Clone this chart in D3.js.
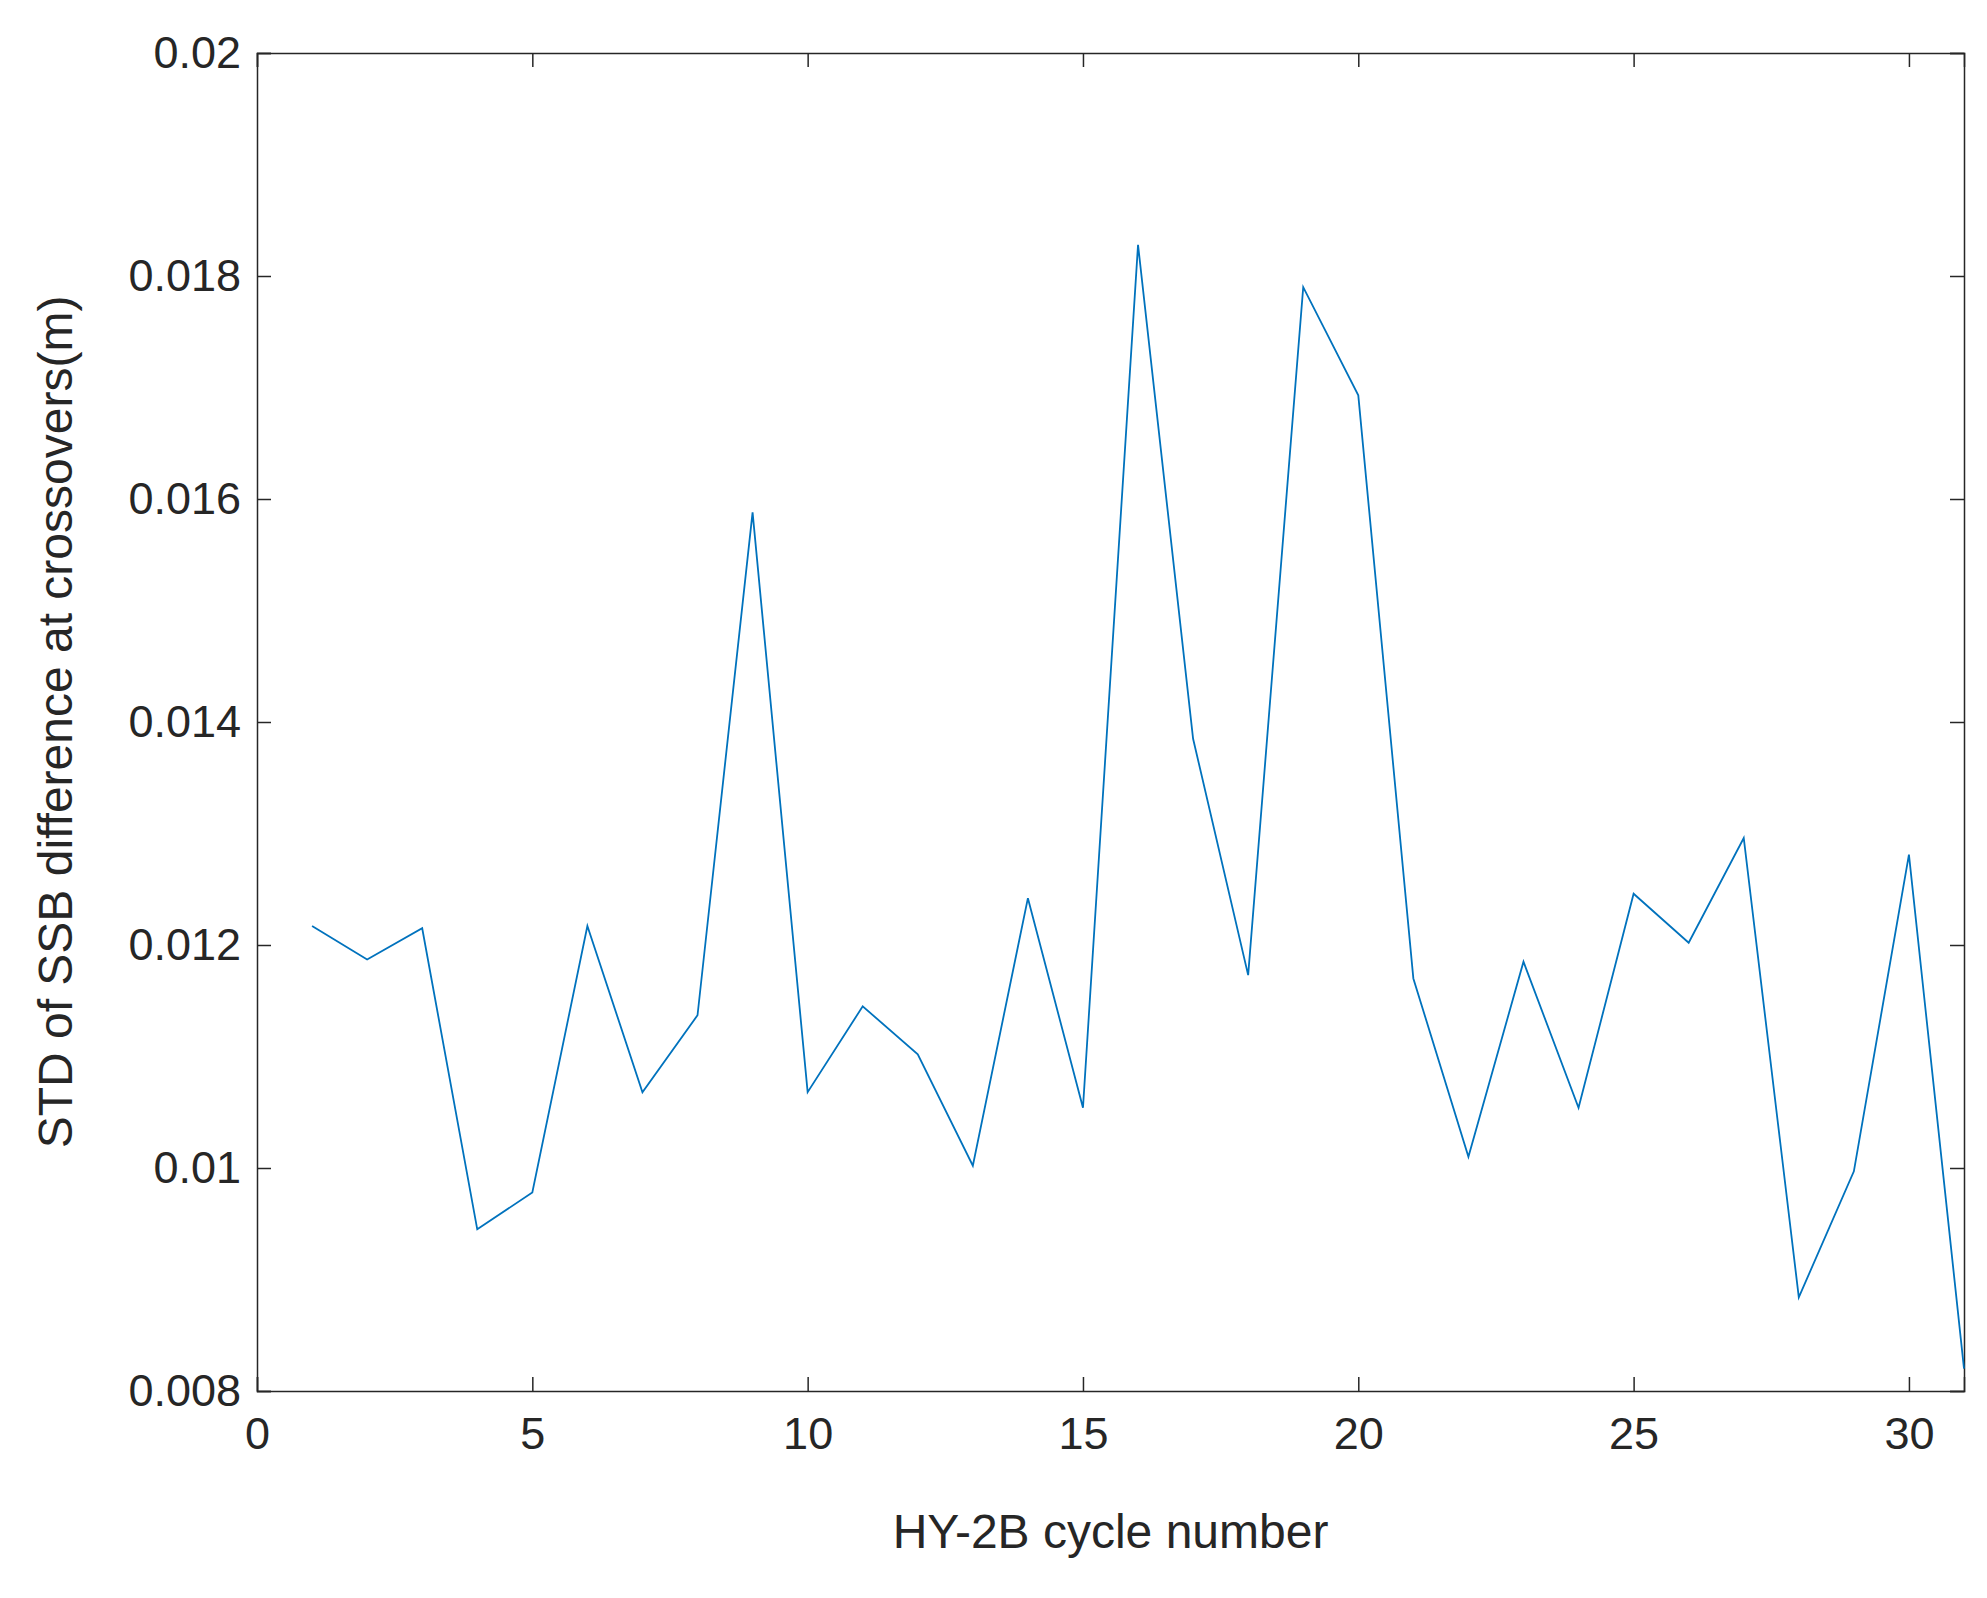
<!DOCTYPE html><html><head><meta charset="utf-8"><script src="https://cdn.jsdelivr.net/npm/d3@7"></script>
<style>body{margin:0;background:#fff}text{font-family:Arial,"Liberation Sans",sans-serif;fill:#262626}</style></head><body>
<svg id="c" width="1987" height="1598"></svg>
<script>
const cycles=d3.range(1,32);
const stdValues=[0.01217,0.01187,0.01215,0.00945,0.00978,0.01217,0.01068,0.01137,0.01588,0.01068,0.01145,0.01102,0.01002,0.01242,0.01054,0.01828,0.01385,0.01173,0.01790,0.01693,0.01170,0.01010,0.01185,0.01054,0.01246,0.01202,0.01296,0.00884,0.00997,0.01281,0.00820];
const xTicks=[0,5,10,15,20,25,30];
const yTicks=[0.008,0.01,0.012,0.014,0.016,0.018,0.02];
const yLabels=["0.008","0.01","0.012","0.014","0.016","0.018","0.02"];
const L=257,R=1964,T=53,B=1391;
const svg=d3.select("#c");
const x=d3.scaleLinear().domain([0,31]).range([L,R]);
const y=d3.scaleLinear().domain([0.008,0.02]).range([B,T]);
const fs=45;
const gx=svg.append("g").attr("transform",`translate(0,${B})`).call(d3.axisBottom(x).tickValues(xTicks).tickSize(-14).tickPadding(26));
const gxt=svg.append("g").attr("transform",`translate(0,${T})`).call(d3.axisTop(x).tickValues(xTicks).tickSize(-14).tickFormat(""));
const gy=svg.append("g").attr("transform",`translate(${L},0)`).call(d3.axisLeft(y).tickValues(yTicks).tickSize(-14).tickPadding(16).tickFormat((d,i)=>yLabels[i]));
const gyr=svg.append("g").attr("transform",`translate(${R},0)`).call(d3.axisRight(y).tickValues(yTicks).tickSize(-14).tickFormat(""));
[gx,gxt,gy,gyr].forEach(g=>{g.selectAll("path,line").attr("stroke","#262626").attr("stroke-width",1.5);g.selectAll("text").attr("font-size",fs).attr("font-family","Arial,'Liberation Sans',sans-serif").attr("fill","#262626");});
svg.append("path").datum(cycles).attr("fill","none").attr("stroke","#0072BD").attr("stroke-width",1.8)
 .attr("d",d3.line().x(d=>x(d)).y((d,i)=>y(stdValues[i])));
svg.append("text").attr("x",(L+R)/2).attr("y",1548).attr("text-anchor","middle").attr("font-size",48).text("HY-2B cycle number");
svg.append("text").attr("transform",`translate(72,${(T+B)/2}) rotate(-90)`).attr("text-anchor","middle").attr("font-size",48).text("STD of SSB difference at crossovers(m)");
</script></body></html>
